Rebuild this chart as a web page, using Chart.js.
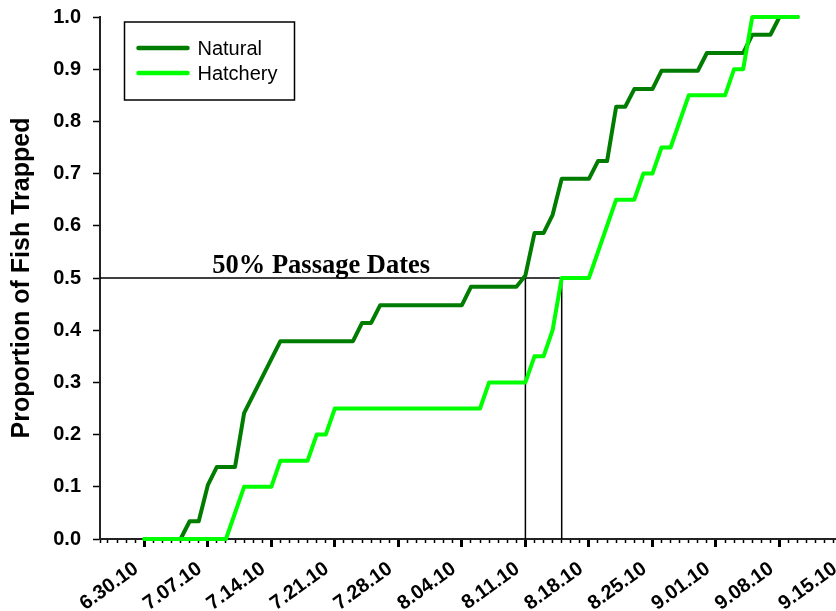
<!DOCTYPE html>
<html>
<head>
<meta charset="utf-8">
<script src="https://cdn.jsdelivr.net/npm/chart.js@4.4.1/dist/chart.umd.min.js"></script>
<style>
  html, body { margin: 0; padding: 0; overflow: hidden; background: #fff; }
  canvas { display: block; }
</style>
</head>
<body>
<canvas id="passageChart" width="843" height="611"></canvas>
<script>
// days counted from 6.30.10 (day 0), values = cumulative proportion trapped
const natDays = [0, 4, 5, 6, 7, 8, 10, 11, 15, 23, 24, 25, 26, 35, 36, 41, 42, 43, 44, 45, 46, 49, 50, 51, 52, 53, 54, 56, 57, 61, 62, 66, 67, 69, 70, 72];
const natVals = [0, 0, 0.034, 0.034, 0.103, 0.138, 0.138, 0.241, 0.379, 0.379, 0.414, 0.414, 0.448, 0.448, 0.483, 0.483, 0.505, 0.586, 0.586, 0.621, 0.690, 0.690, 0.724, 0.724, 0.828, 0.828, 0.862, 0.862, 0.897, 0.897, 0.931, 0.931, 0.966, 0.966, 1.0, 1.0];

const hatDays = [0, 9, 11, 14, 15, 18, 19, 20, 21, 37, 38, 42, 43, 44, 45, 46, 49, 52, 54, 55, 56, 57, 58, 60, 64, 65, 66, 67, 72];
const hatVals = [0, 0, 0.10, 0.10, 0.15, 0.15, 0.20, 0.20, 0.25, 0.25, 0.30, 0.30, 0.35, 0.35, 0.40, 0.50, 0.50, 0.65, 0.65, 0.70, 0.70, 0.75, 0.75, 0.85, 0.85, 0.90, 0.90, 1.0, 1.0];

const tickLabels = ['6.30.10', '7.07.10', '7.14.10', '7.21.10', '7.28.10', '8.04.10', '8.11.10', '8.18.10', '8.25.10', '9.01.10', '9.08.10', '9.15.10'];
const seriesNames = ['Natural', 'Hatchery'];

// 50% passage: natural 8.11 (day 42), hatchery 8.15 (day 46)
const passageDays = [42, 46];
const passageLevel = 0.5;
const passageText = '50% Passage Dates';

const xMin = -4.88;
const xMax = 77;

const toPts = (xs, ys) => xs.map((x, i) => ({ x: x, y: ys[i] }));
const isMajor = (v) => Math.abs(v % 7) < 1e-6;

// legend box + annotation text
const extrasPlugin = {
  id: 'extras',
  afterDatasetsDraw(chart) {
    const { ctx, chartArea, scales } = chart;
    ctx.save();
    ctx.font = 'bold 26.5px "Liberation Serif", "Times New Roman", serif';
    ctx.fillStyle = '#000';
    ctx.textAlign = 'center';
    ctx.textBaseline = 'alphabetic';
    ctx.fillText(passageText, scales.x.getPixelForValue(19.5), scales.y.getPixelForValue(passageLevel) - 5);

    const bx = chartArea.left + 24.5, by = chartArea.top + 5, bw = 170, bh = 78;
    ctx.fillStyle = '#fff';
    ctx.fillRect(bx, by, bw, bh);
    ctx.lineWidth = 1.5;
    ctx.strokeStyle = '#000';
    ctx.strokeRect(bx, by, bw, bh);
    chart.data.datasets.slice(0, 2).forEach((ds, i) => {
      const y = by + 26 + i * 25;
      ctx.beginPath();
      ctx.moveTo(bx + 14, y);
      ctx.lineTo(bx + 63, y);
      ctx.lineWidth = 4.5;
      ctx.lineCap = 'round';
      ctx.strokeStyle = ds.borderColor;
      ctx.stroke();
      ctx.font = '20px "Liberation Sans", Arial, sans-serif';
      ctx.fillStyle = '#000';
      ctx.textAlign = 'left';
      ctx.textBaseline = 'middle';
      ctx.fillText(ds.label, bx + 73, y + 1);
    });
    ctx.restore();
  }
};

const refLine = (pts) => ({
  label: '', data: pts, borderColor: '#000', borderWidth: 1.5,
  pointRadius: 0, order: 3, clip: false
});

const curve = (name, days, vals, color, order) => ({
  label: name,
  data: toPts(days, vals),
  borderColor: color,
  borderWidth: 4,
  pointRadius: 0,
  tension: 0,
  borderJoinStyle: 'round',
  borderCapStyle: 'round',
  clip: false,
  order: order
});

const ctx = document.getElementById('passageChart').getContext('2d');
new Chart(ctx, {
  type: 'line',
  data: {
    datasets: [
      curve(seriesNames[0], natDays, natVals, '#007d00', 2),
      curve(seriesNames[1], hatDays, hatVals, '#00ff00', 1),
      refLine([{ x: xMin, y: passageLevel }, { x: passageDays[1], y: passageLevel }]),
      refLine([{ x: passageDays[0], y: 0 }, { x: passageDays[0], y: passageLevel }]),
      refLine([{ x: passageDays[1], y: 0 }, { x: passageDays[1], y: passageLevel }])
    ]
  },
  options: {
    responsive: false,
    animation: false,
    events: [],
    layout: { padding: { top: 17, left: 0, right: 0, bottom: 0 } },
    plugins: { legend: { display: false }, tooltip: { enabled: false } },
    scales: {
      x: {
        type: 'linear', position: 'bottom', min: xMin, max: xMax,
        ticks: { display: false, stepSize: 1, font: { size: 1 } },
        grid: {
          drawOnChartArea: false, tickLength: 4, tickWidth: 1.5,
          tickColor: '#000'
        },
        border: { display: false },
        afterFit(s) { s.height = 0; s.paddingLeft = 0; s.paddingRight = 0; }
      },
      xMajor: {
        type: 'linear', position: 'bottom', min: xMin, max: xMax,
        ticks: {
          stepSize: 7, autoSkip: false, minRotation: 36, maxRotation: 36,
          padding: 10, labelOffset: -8, color: '#000',
          font: { family: '"Liberation Sans", Arial, sans-serif', size: 20, weight: 'bold' },
          callback: (v) => (isMajor(v) ? tickLabels[Math.round(v / 7)] || '' : '')
        },
        grid: {
          drawOnChartArea: false, tickLength: 8, tickWidth: 3,
          tickColor: (c) => (c.tick && isMajor(c.tick.value) ? '#000' : 'rgba(0,0,0,0)')
        },
        border: { display: true, width: 2, color: '#222' },
        afterFit(s) { s.height = 72; s.paddingLeft = 0; s.paddingRight = 0; }
      },
      y: {
        min: 0, max: 1,
        ticks: {
          stepSize: 0.1, padding: 12, color: '#000',
          font: { family: '"Liberation Sans", Arial, sans-serif', size: 20, weight: 'bold' },
          callback: (v) => v.toFixed(1)
        },
        grid: { drawOnChartArea: false, tickLength: 7, tickWidth: 1.5, tickColor: '#000' },
        border: { display: true, width: 2, color: '#222' },
        title: {
          display: true, text: 'Proportion of Fish Trapped', color: '#000',
          font: { family: '"Liberation Sans", Arial, sans-serif', size: 25, weight: 'bold' },
          padding: { top: 7, bottom: 0 }
        },
        afterFit(s) { s.width = 100; s.paddingTop = 0; s.paddingBottom = 0; }
      }
    }
  },
  plugins: [extrasPlugin]
});
</script>
</body>
</html>
